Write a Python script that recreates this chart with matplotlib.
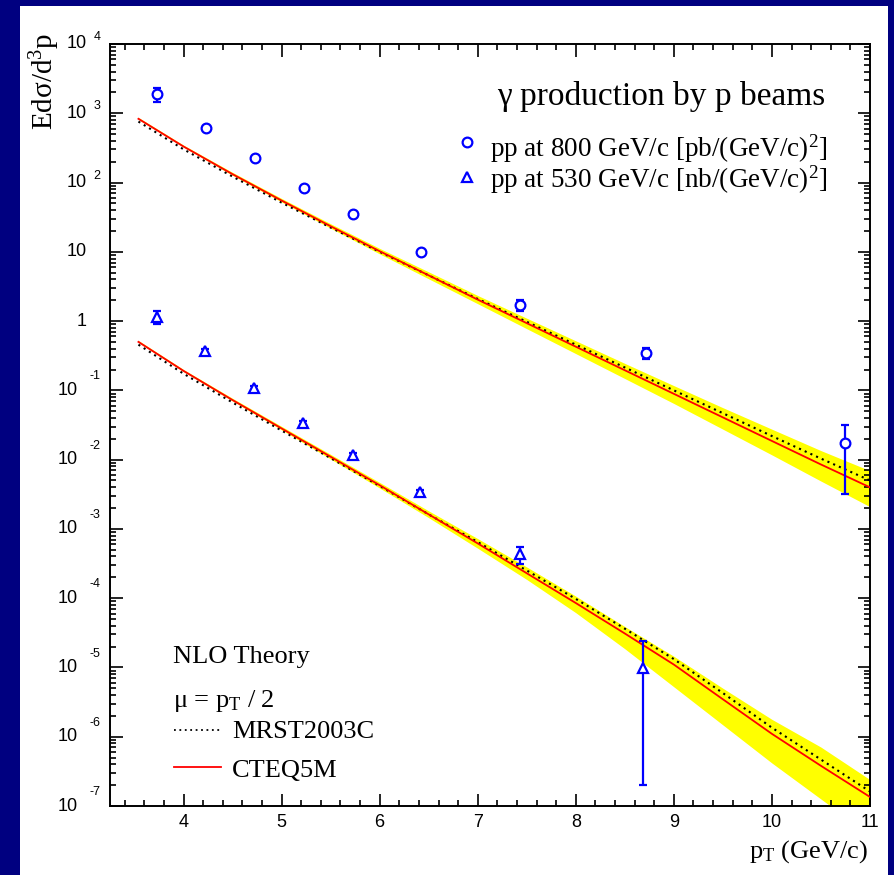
import numpy as np
import matplotlib
matplotlib.use("Agg")
import matplotlib.pyplot as plt
from matplotlib.patches import Rectangle
from matplotlib.ticker import FixedLocator, NullFormatter, LogLocator

plt.rcParams['mathtext.fontset'] = 'custom'
plt.rcParams['mathtext.rm'] = 'Liberation Serif'
plt.rcParams['mathtext.it'] = 'Liberation Serif:italic'

SERIF = 'Liberation Serif'
SANS = 'Liberation Sans'

# data points: pp at 800 GeV/c (pb) and pp at 530 GeV/c (nb)
pt_800 = [3.73, 4.23, 4.73, 5.23, 5.73, 6.42, 7.43, 8.72, 10.74]
xs_800 = [1900, 612, 226, 83, 35.2, 9.9, 1.71, 0.346, 0.0174]
err_800 = [430, 40, 10, 4, 1.5, 0.5, 0.3, 0.06, 0.0142]

pt_530 = [3.73, 4.22, 4.72, 5.22, 5.73, 6.41, 7.43, 8.69]
xs_530 = [1.15, 0.37, 0.108, 0.0338, 0.0117, 0.0034, 4.33e-4, 9.8e-6]
err_530_lo = [0.24, 0.02, 0.006, 0.002, 0.0007, 0.0002, 1.2e-4, 9.6e-6]
err_530_hi = [0.25, 0.02, 0.006, 0.002, 0.0007, 0.0002, 1.2e-4, 1.42e-5]

# NLO theory curves
pt_th = [3.54, 4.0, 4.5, 5.0, 5.5, 6.0, 6.5, 7.0, 7.5, 8.0, 8.5, 9.0, 9.5, 10.0, 10.5, 11.0]

cteq_800 = [832, 331, 132, 55.0, 23.4, 10.2, 4.57, 2.04, 0.933, 0.427, 0.195,
            0.0891, 0.0407, 0.0186, 0.00851, 0.00398]
mrst_800 = [759, 302, 122, 51.3, 22.4, 10.0, 4.57, 2.09, 0.977, 0.457, 0.214,
            0.100, 0.0468, 0.0219, 0.01035, 0.00501]
band_hi_800 = [871, 347, 140, 58.9, 25.4, 11.2, 5.13, 2.34, 1.10, 0.519, 0.245,
               0.117, 0.0562, 0.0275, 0.0135, 0.00692]
band_lo_800 = [813, 324, 127, 52.5, 21.9, 9.33, 4.07, 1.78, 0.776, 0.339, 0.148,
               0.0646, 0.0275, 0.0117, 0.0049, 0.00209]

cteq_530 = [0.501, 0.191, 0.0724, 0.0282, 0.011, 0.00427, 0.00162, 6.17e-4, 2.29e-4,
            8.51e-5, 3.09e-5, 1.10e-5, 3.47e-6, 1.10e-6, 3.80e-7, 1.35e-7]
mrst_530 = [0.457, 0.174, 0.0668, 0.0263, 0.0105, 0.00417, 0.00162, 6.46e-4, 2.51e-4,
            9.77e-5, 3.63e-5, 1.32e-5, 4.27e-6, 1.35e-6, 4.68e-7, 1.62e-7]
band_hi_530 = [0.525, 0.200, 0.0767, 0.0302, 0.0119, 0.00468, 0.00182, 7.24e-4, 2.82e-4,
               1.07e-4, 3.89e-5, 1.45e-5, 5.01e-6, 1.78e-6, 7.08e-7, 2.40e-7]
band_lo_530 = [0.490, 0.186, 0.070, 0.0269, 0.0102, 0.00389, 0.00145, 5.25e-4, 1.86e-4,
               6.17e-5, 1.86e-5, 5.25e-6, 1.48e-6, 4.17e-7, 1.26e-7, 3.80e-8]

x_ticks = [4, 5, 6, 7, 8, 9, 10, 11]
y_exps = [4, 3, 2, 1, 0, -1, -2, -3, -4, -5, -6, -7]

fig = plt.figure(figsize=(8.94, 8.75), dpi=100)
fig.patch.set_facecolor('#000080')
fig.patches.append(Rectangle((20 / 894, 0), 868 / 894, 869 / 875, transform=fig.transFigure,
                             facecolor='white', edgecolor='none', zorder=-5))

ax = fig.add_axes([110 / 894, 69 / 875, 760 / 894, 762 / 875])
ax.set_yscale('log')
ax.set_xlim(3.25, 11)
ax.set_ylim(1e-7, 1e4)

for band_lo, band_hi, mrst, cteq in [(band_lo_800, band_hi_800, mrst_800, cteq_800),
                                     (band_lo_530, band_hi_530, mrst_530, cteq_530)]:
    ax.fill_between(pt_th, band_lo, band_hi, color='#ffff00', lw=0, zorder=1)
    ax.plot(pt_th, mrst, color='black', lw=1.5, ls=(0, (1, 2)), zorder=2)
    ax.plot(pt_th, cteq, color='red', lw=1.3, zorder=3)

ax.errorbar(pt_800, xs_800, yerr=err_800, fmt='o', ms=7, mfc='white', mec='blue', mew=1.6,
            color='blue', elinewidth=1.6, capsize=3, capthick=1.6, zorder=5)
ax.errorbar(pt_530, xs_530, yerr=[err_530_lo, err_530_hi], fmt='^', ms=7.5, mfc='white',
            mec='blue', mew=1.6, color='blue', elinewidth=1.6, capsize=3, capthick=1.6, zorder=5)

# ticks, ROOT style
ax.xaxis.set_major_locator(FixedLocator(x_ticks))
ax.xaxis.set_minor_locator(FixedLocator(np.arange(3.4, 11.01, 0.2)))
ax.set_yticks([10.0 ** e for e in y_exps])
ax.yaxis.set_minor_locator(LogLocator(base=10, subs=(2, 3, 4, 5, 6, 7, 8, 9), numticks=200))
ax.yaxis.set_major_formatter(NullFormatter())
ax.yaxis.set_minor_formatter(NullFormatter())
ax.tick_params(which='both', direction='in', top=True, right=True, width=1.2)
ax.tick_params(which='major', length=9)
ax.tick_params(which='minor', length=4.5)
ax.tick_params(axis='x', labelsize=13, pad=6)
for lab in ax.get_xticklabels():
    lab.set_fontfamily(SANS)
for sp in ax.spines.values():
    sp.set_linewidth(1.4)

ytrans = ax.get_yaxis_transform()
for e in y_exps:
    v = 10.0 ** e
    if e == 0:
        ax.annotate('1', xy=(0, v), xycoords=ytrans, xytext=(-16.5, 0), textcoords='offset points',
                    ha='right', va='center', fontsize=13, family=SANS)
    elif e == 1:
        ax.annotate('10', xy=(0, v), xycoords=ytrans, xytext=(-17, 0), textcoords='offset points',
                    ha='right', va='center', fontsize=13, family=SANS)
    else:
        base_dx = -16.5 if e > 0 else -23
        up = 5 if e > 0 else 10
        ax.annotate('10', xy=(0, v), xycoords=ytrans, xytext=(base_dx, 0), textcoords='offset points',
                    ha='right', va='center', fontsize=13, family=SANS)
        ax.annotate(str(e), xy=(0, v), xycoords=ytrans, xytext=(-7, up), textcoords='offset points',
                    ha='right', va='center', fontsize=9, family=SANS)

ax.text(-0.0855, 1.0144, 'Edσ/d$^{3}$p', transform=ax.transAxes, rotation=90,
        ha='center', va='top', fontsize=21, family=SERIF)
ax.text(0.997, -0.068, r'p$_{\mathrm{T}}$ (GeV/c)', transform=ax.transAxes,
        ha='right', va='baseline', fontsize=19, family=SERIF)

# legend top right
ax.text(0.725, 0.920, 'γ production by p beams', transform=ax.transAxes,
        ha='center', va='baseline', fontsize=24, family=SERIF)
ax.plot([0.4697], [0.8714], 'o', ms=7, mfc='white', mec='blue', mew=1.6,
        transform=ax.transAxes, clip_on=False)
ax.plot([0.4697], [0.8255], '^', ms=7.5, mfc='white', mec='blue', mew=1.6,
        transform=ax.transAxes, clip_on=False)
ax.text(0.5, 0.8517, 'pp at 800 GeV/c [pb/(GeV/c)$^{2}$]', transform=ax.transAxes,
        ha='left', va='baseline', fontsize=19.5, family=SERIF)
ax.text(0.5, 0.811, 'pp at 530 GeV/c [nb/(GeV/c)$^{2}$]', transform=ax.transAxes,
        ha='left', va='baseline', fontsize=19.5, family=SERIF)

# legend bottom left
ax.text(0.0829, 0.1877, 'NLO Theory', transform=ax.transAxes,
        ha='left', va='baseline', fontsize=19, family=SERIF)
ax.text(0.0829, 0.130, r'μ = p$_{\mathrm{T}}$ / 2', transform=ax.transAxes,
        ha='left', va='baseline', fontsize=19, family=SERIF)
ax.plot([0.0842, 0.146], [0.0997, 0.0997], color='black', lw=1.3, ls=(0, (1, 2)),
        transform=ax.transAxes)
ax.plot([0.0842, 0.146], [0.0512, 0.0512], color='red', lw=1.3, transform=ax.transAxes)
ax.text(0.1605, 0.0892, 'MRST2003C', transform=ax.transAxes,
        ha='left', va='baseline', fontsize=19, family=SERIF)
ax.text(0.1605, 0.0381, 'CTEQ5M', transform=ax.transAxes,
        ha='left', va='baseline', fontsize=19, family=SERIF)

fig.savefig('out.png', dpi=100, facecolor=fig.get_facecolor())
